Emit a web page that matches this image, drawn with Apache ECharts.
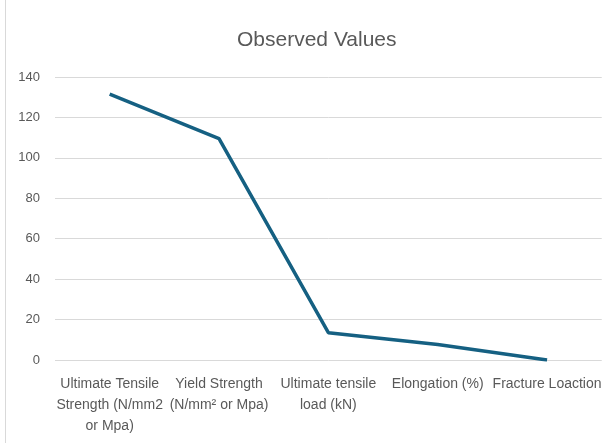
<!DOCTYPE html>
<html>
<head>
<meta charset="utf-8">
<script src="https://cdn.jsdelivr.net/npm/echarts@6/dist/echarts.min.js"></script>
<style>
  html, body { margin: 0; padding: 0; background: #fff; }
  #frame { position: absolute; left: 5px; top: 0; width: 599px; height: 443px; border-left: 1px solid #d9d9d9; }
  #chart { position: absolute; left: 0; top: 0; width: 604px; height: 443px; }
</style>
</head>
<body>
<div id="frame"></div>
<div id="chart"></div>
<script>
const categories = [
  'Ultimate Tensile\nStrength (N/mm2\nor Mpa)',
  'Yield Strength\n(N/mm\u00b2 or Mpa)',
  'Ultimate tensile\nload (kN)',
  'Elongation (%)',
  'Fracture Loaction'
];
const observed = [131.5, 109.5, 13.5, 7.7, 0];

const font = "'Liberation Sans', sans-serif";
const chart = echarts.init(document.getElementById('chart'));
chart.setOption({
  animation: false,
  title: {
    text: 'Observed Values',
    left: 232,
    top: 25,
    textStyle: { color: '#595959', fontSize: 21, fontWeight: 'normal', fontFamily: font }
  },
  grid: { left: 55, right: -3, top: 77, bottom: 83, containLabel: false },
  xAxis: {
    type: 'category',
    data: categories,
    boundaryGap: true,
    axisLine: { show: false },
    axisTick: { show: false },
    axisLabel: {
      interval: 0,
      color: '#595959',
      fontSize: 14,
      lineHeight: 21,
      margin: 14,
      fontFamily: font
    }
  },
  yAxis: {
    type: 'value',
    min: 0,
    max: 140,
    interval: 20,
    axisLine: { show: false },
    axisTick: { show: false },
    axisLabel: { color: '#595959', fontSize: 13, margin: 15, fontFamily: font },
    splitLine: { lineStyle: { color: '#d9d9d9', width: 1 } }
  },
  series: [{
    name: 'Observed Values',
    type: 'line',
    data: observed,
    showSymbol: false,
    lineStyle: { color: '#156082', width: 3.5 },
    itemStyle: { color: '#156082' }
  }]
});
</script>
</body>
</html>
